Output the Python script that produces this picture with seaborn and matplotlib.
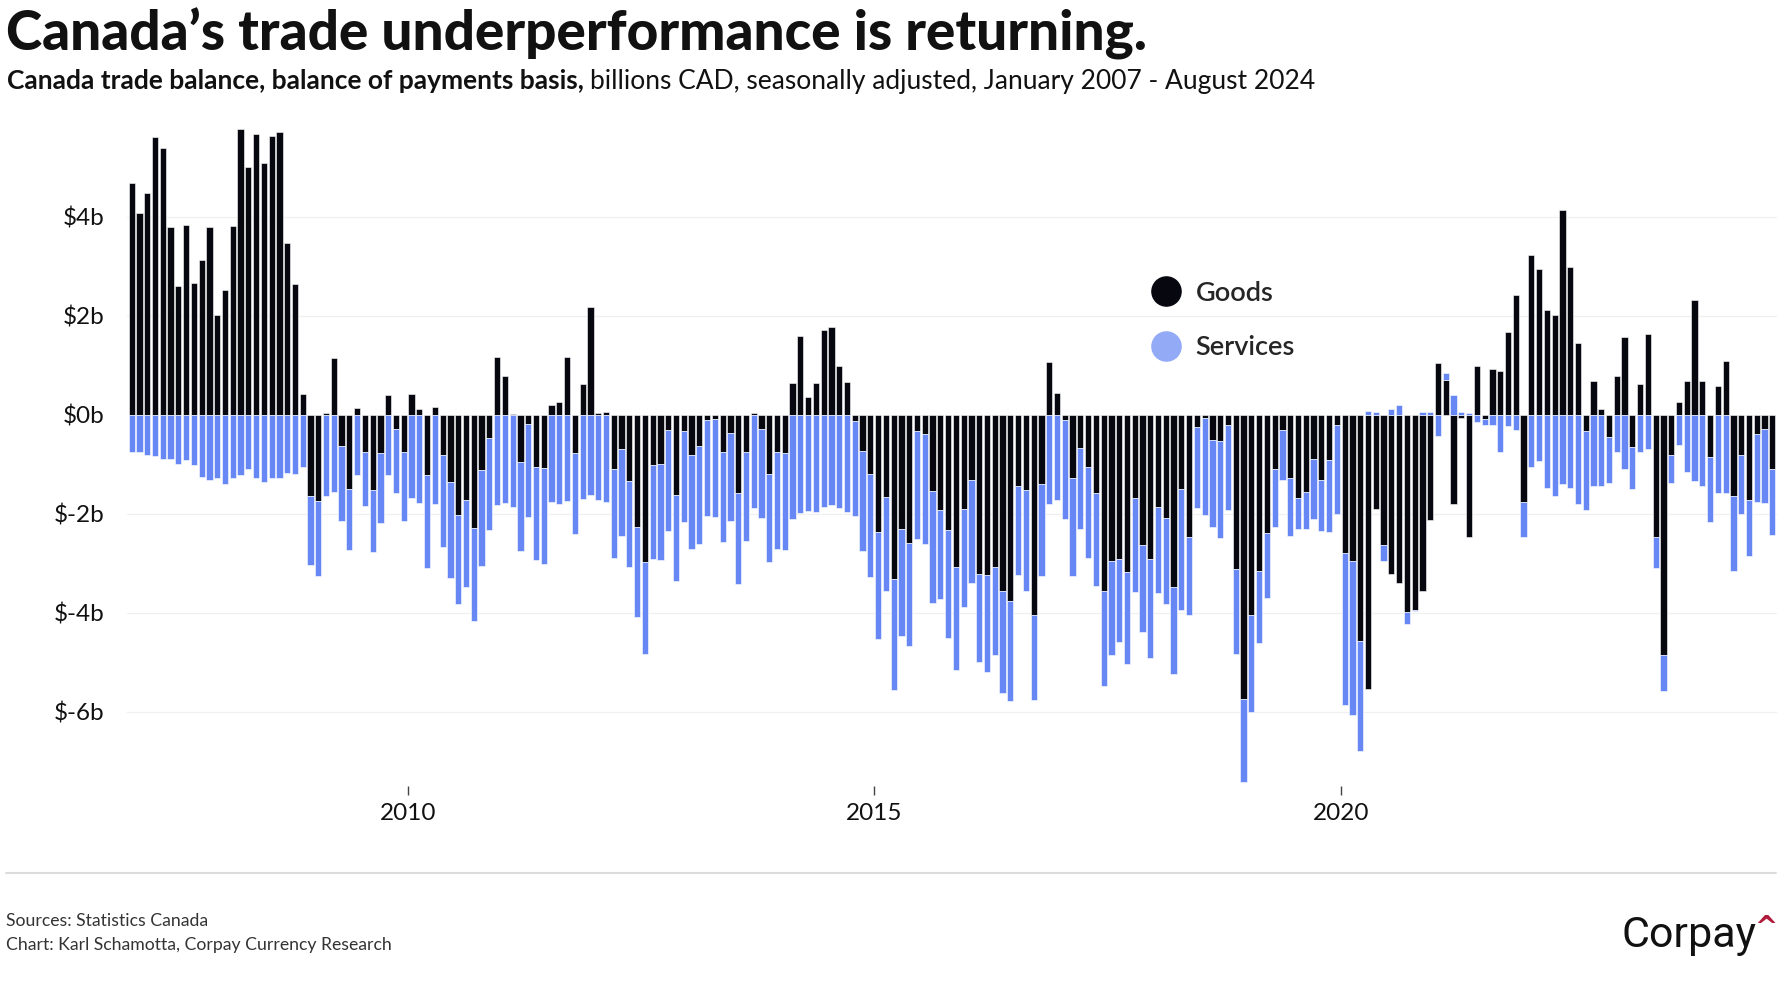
import matplotlib
matplotlib.use("Agg")
import matplotlib.pyplot as plt
from matplotlib.lines import Line2D
import seaborn as sns
import numpy as np
import pandas as pd

# Monthly trade balance, billions CAD, Jan 2007 - Aug 2024
goods = [
    4.68, 4.07, 4.49, 5.62, 5.39, 3.80, 2.60, 3.83, 2.66, 3.14, 3.80, 2.02,
    2.52, 3.82, 5.78, 5.01, 5.67, 5.10, 5.64, 5.72, 3.48, 2.65, 0.43, -1.64,
    -1.74, 0.03, 1.15, -0.62, -1.49, 0.14, -0.74, -1.52, -0.77, 0.41, -0.28, -0.74,
    0.43, 0.11, -1.21, 0.15, -0.81, -1.35, -2.03, -1.73, -2.28, -1.12, -0.46, 1.16,
    0.78, 0.02, -0.95, -0.19, -1.05, -1.07, 0.20, 0.26, 1.16, -0.78, 0.63, 2.18,
    0.03, 0.05, -1.10, -0.68, -1.33, -2.27, -2.97, -1.02, -0.99, -0.31, -1.61, -0.33,
    -0.81, -0.62, -0.10, -0.08, -0.75, -0.37, -1.58, -0.74, 0.04, -0.29, -1.20, -0.76,
    -0.78, 0.65, 1.59, 0.37, 0.64, 1.71, 1.77, 0.99, 0.67, -0.12, -0.72, -1.20,
    -2.36, -1.65, -3.32, -2.30, -2.59, -0.33, -0.38, -1.54, -1.92, -2.33, -3.07, -1.91,
    -1.31, -3.21, -3.23, -3.08, -3.56, -3.77, -1.43, -1.51, -4.04, -1.40, 1.06, 0.44,
    -0.10, -1.27, -0.67, -1.05, -1.58, -3.56, -2.96, -2.92, -3.17, -1.67, -2.62, -2.92,
    -1.87, -2.09, -3.48, -1.49, -2.47, -0.25, -0.07, -0.50, -0.52, -0.20, -3.12, -5.75,
    -4.04, -3.15, -2.38, -1.10, -0.31, -1.28, -1.67, -1.56, -0.89, -1.32, -0.91, -0.20,
    -2.80, -2.95, -4.56, -5.54, -1.90, -2.62, -3.22, -3.40, -3.98, -3.94, -3.56, -2.13,
    1.05, 0.70, -1.80, -0.07, -2.46, 0.98, -0.09, 0.93, 0.88, 1.67, 2.42, -1.76,
    3.24, 2.94, 2.11, 2.02, 4.14, 2.98, 1.46, -0.32, 0.68, 0.12, -0.45, 0.78,
    1.57, -0.65, 0.63, 1.64, -2.47, -4.86, -0.82, 0.26, 0.69, 2.32, 0.69, -0.85,
    0.59, 1.08, -1.64, -0.82, -1.72, -0.38, -0.29, -1.10,
]
services = [
    -0.76, -0.76, -0.82, -0.84, -0.89, -0.90, -1.00, -0.92, -1.02, -1.25, -1.32, -1.28,
    -1.40, -1.28, -1.21, -1.10, -1.28, -1.35, -1.28, -1.28, -1.17, -1.20, -1.05, -1.40,
    -1.51, -1.64, -1.56, -1.52, -1.24, -1.21, -1.10, -1.26, -1.42, -1.21, -1.30, -1.40,
    -1.67, -1.78, -1.88, -1.81, -1.86, -1.94, -1.80, -1.75, -1.88, -1.94, -1.86, -1.82,
    -1.79, -1.87, -1.80, -1.87, -1.88, -1.95, -1.76, -1.80, -1.75, -1.63, -1.70, -1.61,
    -1.72, -1.76, -1.79, -1.76, -1.74, -1.82, -1.87, -1.90, -1.95, -2.03, -1.75, -1.83,
    -1.91, -1.98, -1.94, -1.98, -1.81, -1.78, -1.83, -1.81, -1.89, -1.80, -1.78, -1.95,
    -1.96, -2.10, -1.99, -1.94, -1.96, -1.87, -1.82, -1.88, -1.96, -1.92, -2.04, -2.08,
    -2.16, -1.90, -2.23, -2.17, -2.08, -2.17, -2.22, -2.27, -1.80, -2.17, -2.09, -1.97,
    -2.09, -1.78, -1.96, -1.77, -2.07, -2.01, -1.81, -2.05, -1.72, -1.85, -1.80, -1.72,
    -2.01, -1.98, -1.64, -1.84, -1.87, -1.91, -1.89, -1.66, -1.87, -1.90, -1.77, -1.99,
    -1.73, -1.73, -1.75, -2.45, -1.57, -1.63, -1.96, -1.77, -1.97, -1.73, -1.71, -1.67,
    -1.97, -1.47, -1.32, -1.17, -1.01, -1.17, -0.64, -0.75, -1.22, -1.02, -1.45, -1.81,
    -3.07, -3.12, -2.24, 0.08, 0.05, -0.34, 0.12, 0.20, -0.24, -0.03, 0.05, 0.06,
    -0.42, 0.15, 0.41, 0.05, 0.03, -0.14, -0.12, -0.20, -0.75, -0.23, -0.30, -0.70,
    -1.05, -0.94, -1.48, -1.64, -1.40, -1.48, -1.80, -1.60, -1.44, -1.43, -0.93, -0.76,
    -1.10, -0.84, -0.76, -0.69, -0.63, -0.73, -0.56, -0.60, -1.16, -1.34, -1.44, -1.32,
    -1.58, -1.57, -1.51, -1.19, -1.13, -1.38, -1.50, -1.32,
]
year_ticks = [2010, 2015, 2020]
y_ticks = [4, 2, 0, -2, -4, -6]
y_labels = ["$4b", "$2b", "$0b", "$-2b", "$-4b", "$-6b"]

GOODS_C = "#06070f"
SERV_C = "#6687f4"
SERV_LEGEND_C = "#93aaf7"

sns.set_theme(style="white")
plt.rcParams["font.family"] = ["Lato", "DejaVu Sans"]

df = pd.DataFrame({
    "month": pd.date_range("2007-01-01", periods=len(goods), freq="MS"),
    "goods": goods,
    "services": services,
})
df["pos"] = np.arange(len(df))
g = df["goods"].to_numpy()
s = df["services"].to_numpy()
# stack services on goods when they share a sign, otherwise start at zero
df["s_bottom"] = np.where(np.sign(g) == np.sign(s), g, 0.0)

W, H = 1782, 1000
fig = plt.figure(figsize=(W / 100, H / 100), dpi=100)
ax = fig.add_axes([127 / W, 0.214, 1650 / W, 0.668])

for y in [4, 2, -2, -4, -6]:
    ax.axhline(y, color="#f0f0f0", lw=0.9, zorder=0)

sns.barplot(data=df, x="pos", y="goods", native_scale=True, color=GOODS_C,
            saturation=1, width=0.8, edgecolor="white", linewidth=0.4,
            errorbar=None, ax=ax, zorder=2)
ax.bar(df["pos"], df["services"], bottom=df["s_bottom"], width=0.8,
       color=SERV_C, edgecolor="white", linewidth=0.4, zorder=2)

ax.set_xlim(-0.6, len(df) - 0.4)
ax.set_ylim(-7.5, 6.0)
tick_pos = [df.index[(df["month"].dt.year == yr) & (df["month"].dt.month == 1)][0] - 0.5
            for yr in year_ticks]
ax.set_xticks(tick_pos, [str(yr) for yr in year_ticks])
ax.set_yticks(y_ticks, y_labels)
ax.set_xlabel("")
ax.set_ylabel("")
ax.tick_params(axis="x", bottom=True, length=6.5, width=1, color="#444",
               direction="out", pad=6, labelsize=17.5, labelcolor="#111")
ax.tick_params(axis="y", left=False, length=0, pad=16, labelsize=17.5,
               labelcolor="#111")
sns.despine(ax=ax, left=True, bottom=True)

handles = [
    Line2D([], [], marker="o", ls="", ms=21, color=GOODS_C, label="Goods"),
    Line2D([], [], marker="o", ls="", ms=21, color=SERV_LEGEND_C, label="Services"),
]
ax.legend(handles=handles, loc="upper left", bbox_to_anchor=(1136 / W, 1 - 267 / H),
          bbox_transform=fig.transFigure, frameon=False,
          handletextpad=0.5, labelspacing=1.1, borderpad=0, handlelength=1.2,
          prop={"size": 19.5, "weight": "semibold"})

# titles
fig.text(6 / W, 1 - 51 / H, "Canada’s trade underperformance is returning.",
         fontsize=39.5, fontweight="black", va="baseline", ha="left", color="#111")
t1 = fig.text(7 / W, 1 - 89 / H, "Canada trade balance, balance of payments basis,",
              fontsize=19, fontweight="bold", va="baseline", ha="left", color="#111")
r = fig.canvas.get_renderer()
x2 = t1.get_window_extent(r).x1 / W
fig.text(x2 + 6 / W, 1 - 89 / H,
         "billions CAD, seasonally adjusted, January 2007 - August 2024",
         fontsize=19, va="baseline", ha="left", color="#111")

# footer
fig.add_artist(Line2D([6 / W, 1776 / W], [0.127, 0.127], color="#dcdcdc", lw=1.5,
                      transform=fig.transFigure))
fig.text(6 / W, 1 - 921 / H, "Sources: Statistics Canada", fontsize=12.7,
         va="center", color="#333")
fig.text(6 / W, 1 - 945 / H, "Chart: Karl Schamotta, Corpay Currency Research",
         fontsize=12.7, va="center", color="#333")
fig.text(1757 / W, 1 - 947 / H, "Corpay", family="Roboto", fontsize=31,
         ha="right", va="baseline", color="#111")
fig.text(1766 / W, 1 - 928 / H, "^", family="DejaVu Sans", fontsize=20,
         fontweight="bold", ha="center", va="center", color="#b01c3c")

fig.savefig("out.png", dpi=100)
